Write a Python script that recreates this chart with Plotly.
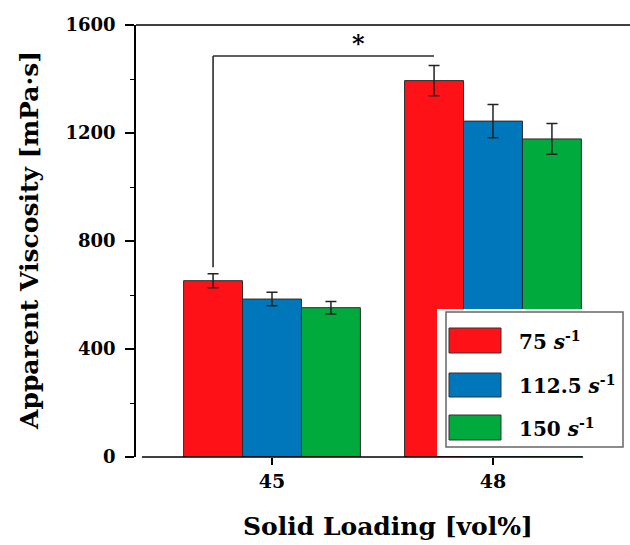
import plotly.graph_objects as go

# Solid loading groups and shear-rate series
loadings = ["45", "48"]
series_names = ["75", "112.5", "150"]
visc_75 = [653, 1394]
visc_112 = [585, 1244]
visc_150 = [553, 1178]
err_75 = [26, 56]
err_112 = [25, 62]
err_150 = [23, 57]
y_ticks = [0, 400, 800, 1200, 1600]

colors = ["#FF1217", "#0077BB", "#00AA3C"]
values = [visc_75, visc_112, visc_150]
errors = [err_75, err_112, err_150]

FONT = "DejaVu Serif"
x_pos = list(range(len(loadings)))

fig = go.Figure()
for name, vals, errs, col in zip(series_names, values, errors, colors):
    fig.add_trace(go.Bar(
        x=x_pos, y=vals, name=name,
        marker=dict(color=col, line=dict(color="#2a2a2a", width=1)),
        error_y=dict(type="data", array=errs, visible=True,
                     color="#222222", thickness=1.5, width=5.5),
        showlegend=False,
    ))

bargap = 0.2
bar_w = (1 - bargap) / len(series_names)
red_off = -bar_w  # centre offset of the first bar in each group

# significance bracket between the 75 s-1 bars of both loadings
x_left = x_pos[0] + red_off
x_right = x_pos[1] + red_off
y_top = 1485
y_bottom = visc_75[0] + err_75[0] + 24
line_style = dict(color="#2b2b2b", width=1.6)
fig.add_shape(type="line", xref="x", yref="y", x0=x_left, x1=x_left,
              y0=y_bottom, y1=y_top, line=line_style)
fig.add_shape(type="line", xref="x", yref="y", x0=x_left, x1=x_right,
              y0=y_top, y1=y_top, line=line_style)
fig.add_annotation(xref="x", yref="y", x=0.39, y=1530, text="<b>*</b>",
                   showarrow=False, font=dict(family=FONT, size=24, color="black"))

# frame lines: top border and truncated bottom axis
fig.add_shape(type="line", xref="paper", yref="paper", x0=0, x1=1, y0=1, y1=1,
              line=dict(color="black", width=1.6))
fig.add_shape(type="line", xref="paper", yref="paper", x0=0.012, x1=0.905, y0=0, y1=0,
              line=dict(color="black", width=1.6))

# custom legend box
fig.add_shape(type="rect", xref="paper", yref="paper",
              x0=(437 - 136) / 494, x1=(629 - 136) / 494,
              y0=(457 - 456) / 432, y1=(457 - 309) / 432,
              fillcolor="white", line=dict(width=0), layer="above")
fig.add_shape(type="rect", xref="paper", yref="paper",
              x0=(446 - 136) / 494, x1=(623 - 136) / 494,
              y0=(457 - 447) / 432, y1=(457 - 312) / 432,
              fillcolor="rgba(0,0,0,0)", line=dict(color="#666666", width=1.5),
              layer="above")
rows = [(328, 353), (373, 397), (415, 440)]
for (top, bot), name, col in zip(rows, series_names, colors):
    fig.add_shape(type="rect", xref="paper", yref="paper",
                  x0=(449 - 136) / 494, x1=(501 - 136) / 494,
                  y0=(457 - bot) / 432, y1=(457 - top) / 432,
                  fillcolor=col, line=dict(color="#333333", width=1), layer="above")
    fig.add_annotation(xref="paper", yref="paper",
                       x=(517 - 136) / 494, y=(457 - (top + bot) / 2) / 432,
                       xanchor="left", yanchor="middle", showarrow=False,
                       text=f"<b>{name} <i>s</i><sup>-1</sup></b>",
                       font=dict(family=FONT, size=20, color="black"))

# axis titles
fig.add_annotation(xref="paper", yref="paper", x=(29 - 136) / 494, y=(457 - 241) / 432,
                   text="<b>Apparent Viscosity [mPa·s]</b>", textangle=-90,
                   showarrow=False, xanchor="center", yanchor="middle",
                   font=dict(family=FONT, size=25, color="black"))
fig.add_annotation(xref="paper", yref="paper", x=(388 - 136) / 494, y=(457 - 526) / 432,
                   text="<b>Solid Loading [vol%]</b>",
                   showarrow=False, xanchor="center", yanchor="middle",
                   font=dict(family=FONT, size=25, color="black"))

fig.update_layout(
    width=630, height=545,
    margin=dict(l=136, r=0, t=25, b=88),
    barmode="group", bargap=bargap, bargroupgap=0,
    plot_bgcolor="white", paper_bgcolor="white",
    font=dict(family=FONT, color="black"),
)
fig.update_xaxes(
    range=[-0.6154, 1.62], tickmode="array", tickvals=x_pos,
    ticktext=[f"<b>{t}</b>" for t in loadings],
    ticks="outside", ticklen=7, tickwidth=1.6, tickcolor="black",
    showline=False, showgrid=False, zeroline=False,
    tickfont=dict(family=FONT, size=19, color="black"),
)
fig.update_yaxes(
    range=[0, 1600], tickmode="array", tickvals=y_ticks,
    ticktext=[f"<b>{t}</b>" for t in y_ticks],
    ticks="outside", ticklen=9, tickwidth=1.6, tickcolor="black",
    minor=dict(ticks="outside", ticklen=4, dtick=200, tickwidth=1.2, tickcolor="black"),
    showline=True, linecolor="black", linewidth=1.6,
    showgrid=False, zeroline=False, ticklabelstandoff=6,
    tickfont=dict(family=FONT, size=18, color="black"),
)

fig.write_html("out.html")
